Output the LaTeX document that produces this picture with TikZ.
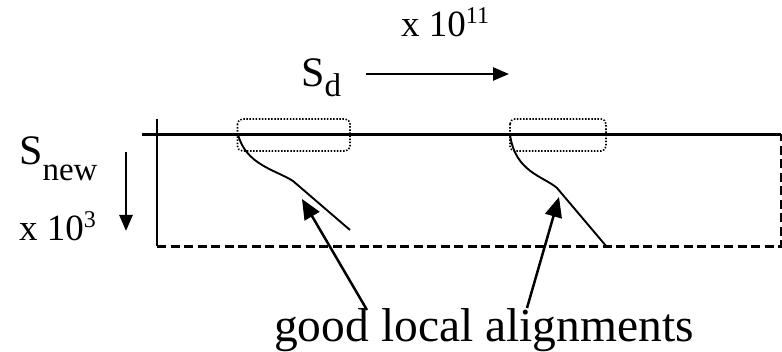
\documentclass[tikz,border=0pt]{standalone}
\usepackage{fontspec}
\setmainfont{Liberation Serif}
\usetikzlibrary{arrows.meta}
\newcommand{\fsz}[1]{\fontsize{#1}{#1}\selectfont}
\begin{document}
\begin{tikzpicture}[x=1pt,y=-1pt,
  lbl/.style={inner sep=0pt,anchor=base west},
  solidline/.style={line width=2.3pt},
  dashline/.style={line width=2.3pt,dash pattern=on 9pt off 4.5pt},
  dotbox/.style={line width=1.6pt,dash pattern=on 1.5pt off 1.6pt,rounded corners=5pt},
  curveline/.style={line width=1.9pt},
  bigarrow/.style={line width=2.5pt,-{Triangle[length=20pt,width=17pt]}},
  smallarrow/.style={line width=2.5pt,-{Triangle[length=16pt,width=13pt]}}]
\useasboundingbox (0,0) rectangle (782,352);
% labels
\node[lbl] (xe) at (401,37) {\fsz{37}x 10\raisebox{0.36em}{\fsz{24}11}};
\node[lbl] (sd) at (301,87) {\fsz{42}S\raisebox{-0.22em}{\fsz{33}d}};
\node[lbl] (snew) at (19,165) {\fsz{42}S\raisebox{-0.38em}{\fsz{33}new}};
\node[lbl] (xt) at (19,241) {\fsz{37}x 10\raisebox{0.36em}{\fsz{24}3}};
\node[lbl] (gla) at (274,341.5) {\fsz{47.5}good local alignments};
% coordinates
\coordinate (sdA) at (366,74);
\coordinate (sdB) at (509,74);
\coordinate (dnA) at (126,152);
\coordinate (dnB) at (126,231);
\coordinate (vT) at (157,119);
\coordinate (vB) at (157,246.5);
\coordinate (hL) at (142,134.5);
\coordinate (hR) at (781,134.5);
\coordinate (dR) at (781,246.5);
\coordinate (c1s) at (238,134.5);
\coordinate (c1m) at (293,181);
\coordinate (c1e) at (350,230);
\coordinate (c2s) at (510,134.5);
\coordinate (c2m) at (557,188);
\coordinate (c2e) at (606.5,246.5);
\coordinate (a1s) at (367,310);
\coordinate (a1e) at (302,199);
\coordinate (a2s) at (527,308);
\coordinate (a2e) at (559,197);
% axes arrows
\draw[smallarrow] (sdA) -- (sdB);
\draw[smallarrow] (dnA) -- (dnB);
% frame
\draw[solidline] (vT) -- (vB);
\draw[solidline] (hL) -- (hR);
\draw[dashline] (vB) -- (dR) -- (hR);
% dotted boxes
\draw[dotbox] (237.5,119) rectangle (350,151);
\draw[dotbox] (510,119) rectangle (606,151);
% alignment curves
\draw[curveline] (c1s) .. controls (246,165) and (276,170) .. (c1m) -- (c1e);
\draw[curveline] (c2s) .. controls (515,172) and (543,176) .. (c2m) -- (c2e);
% pointers
\draw[bigarrow] (a1s) -- (a1e);
\draw[bigarrow] (a2s) -- (a2e);
\end{tikzpicture}
\end{document}
